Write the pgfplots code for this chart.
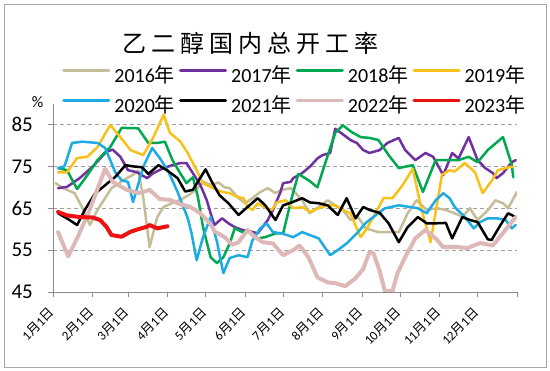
\documentclass[border=0pt]{standalone}
\usepackage{pgfplots}
\pgfplotsset{compat=1.18}
\usepackage{fontspec}
\setmainfont{Carlito}
\newfontfamily\cjk{Noto Sans CJK SC}
\newcommand{\md}[1]{#1{\cjk 月}1{\cjk 日}}
\newcommand{\nian}[1]{#1{\cjk 年}}
\definecolor{c16}{HTML}{C4BD97}
\definecolor{c17}{HTML}{7030A0}
\definecolor{c18}{HTML}{00A84F}
\definecolor{c19}{HTML}{F8C11A}
\definecolor{c20}{HTML}{1CABE2}
\definecolor{c21}{HTML}{000000}
\definecolor{c22}{HTML}{DDB8B7}
\definecolor{c23}{HTML}{EE1111}
\definecolor{axgray}{HTML}{8C8C8C}
\definecolor{frgray}{HTML}{A6A6A6}
\begin{document}
\begin{tikzpicture}
\path (-53pt,-79pt) rectangle (497pt,292pt);
\draw[frgray, line width=0.8pt] (-49pt,-75pt) rectangle (493pt,288pt);
\begin{axis}[
  at={(0pt,0pt)}, anchor=south west,
  scale only axis, width=464pt, height=188.4pt,
  xmin=0, xmax=365, ymin=45, ymax=90,
  axis x line*=bottom, axis y line*=left,
  axis line style={draw=axgray, line width=0.8pt, -},
  xtick={0,31,59,90,120,151,181,212,243,273,304,334,365},
  xticklabels={\md{1},\md{2},\md{3},\md{4},\md{5},\md{6},\md{7},\md{8},\md{9},\md{10},\md{11},\md{12},{}},
  ytick={45,55,65,75,85},
  tick align=outside, major tick length=5pt,
  tick style={draw=axgray, line width=0.8pt},
  ymajorgrids, grid style={draw=gray!75, dash pattern=on 4pt off 3pt, line width=0.7pt},
  /pgf/number format/assume math mode=true,
  yticklabel style={font=\fontsize{21}{24}\selectfont, anchor=east, inner sep=0pt, xshift=-15pt},
  xticklabel style={font=\fontsize{13}{15}\selectfont, yshift=-13pt, xshift=-1pt, rotate=45, anchor=east, inner sep=0pt},
  legend columns=4,
  legend style={draw=none, fill=none, inner sep=0pt, at={(0.0194,1.194)}, anchor=north west,
    font=\fontsize{20}{24}\selectfont, row sep=11pt,
    nodes={inner sep=0pt, text height=15pt, text depth=4pt},
    /tikz/every odd column/.append style={column sep=4pt},
    /tikz/every even column/.append style={column sep=4pt}},
  legend image code/.code={\draw[#1, line width=3.2pt] (0pt,6.5pt) -- (45pt,6.5pt);},
  every axis plot/.append style={line join=round, line cap=round},
]
\addplot[c16, line width=2.5pt] coordinates {(2,71)(8,69.8)(17,68.6)(25,64)(29,61)(35,64.6)(46,69.8)(57,72)(63,73)(67,74)(71,67.6)(76,55.7)(82,62.9)(87,65.3)(92,66)(100,67)(106,68)(112,69.3)(118,71.3)(125,70.5)(130,71.2)(135,70)(139,69.8)(145,67.7)(151,66.2)(157,67.4)(163,68.9)(169,69.8)(175,68.6)(179,69.3)(187,69.8)(190,68.9)(196,66.9)(202,63.8)(209,65.3)(216,66.9)(222,65.7)(228,64.6)(234,62.2)(240,62.9)(246,60.2)(256,59.3)(267,59.3)(272,59.3)(279,63.8)(286,66.9)(294,64.6)(302,65)(309,64.6)(316,63.8)(322,63)(328,65)(334,62.2)(342,64.5)(348,66.9)(354,66.2)(358,65)(365,68.9)};
\addlegendentry{\nian{2016}}
\addplot[c17, line width=2.5pt] coordinates {(4,69.8)(11,70.1)(21,72.2)(31,74.9)(42,78.5)(47,79)(53,77.3)(59,74.1)(66,73.6)(74,72.2)(79,73.4)(87,74.6)(94,75.3)(100,75.8)(105,75.8)(110,73.4)(116,70.5)(121,66.9)(124,63.8)(127,61)(133,62.6)(138,61.4)(143,60.5)(149,59.8)(155,59.5)(161,59)(169,62.2)(173,64.6)(179,68.9)(181,71)(187,71.3)(189,72.2)(196,73.4)(202,74.9)(208,76.9)(212,77.7)(218,78.2)(222,84)(227,82.9)(234,81.3)(239,80.6)(244,78.9)(249,78.2)(257,78.9)(263,80.6)(272,81.8)(277,78.9)(285,76.5)(293,78.2)(299,77.3)(307,72.9)(314,78.2)(319,76.9)(327,82)(334,76.5)(340,74.6)(346,73.4)(349,72.2)(354,73.4)(361,76)(364,76.5)};
\addlegendentry{\nian{2017}}
\addplot[c18, line width=2.5pt] coordinates {(4,74.6)(11,74.1)(19,69.6)(27,72.9)(35,76.5)(45,79.6)(54,84.2)(67,84.1)(75,80.6)(82,80.6)(88,80.9)(94,76.5)(100,73.4)(105,71)(110,72.4)(114,67.7)(118,60.5)(124,53.3)(129,51.9)(134,53.3)(139,56.6)(143,60.2)(149,59.3)(155,59.3)(161,57.8)(167,58.1)(175,59)(181,59)(188,67.7)(193,73.2)(202,71.5)(208,70)(216,77.5)(222,83)(228,84.8)(235,83.2)(242,82)(249,81.8)(256,81.3)(264,77.7)(272,74.6)(283,75.3)(291,68.9)(301,76.5)(309,76.5)(319,76.5)(327,77.3)(334,76)(342,78.9)(354,82)(361,75.3)(362,72.4)};
\addlegendentry{\nian{2018}}
\addplot[c19, line width=2.5pt] coordinates {(4,73.6)(11,73.6)(19,77)(27,77.3)(35,79.6)(45,84.9)(53,82)(61,78.9)(71,77.7)(79,82)(87,87.3)(92,83)(100,81)(106,78.2)(113,74.1)(118,71)(126,69.8)(133,68.9)(139,68.6)(145,67.7)(150,67.4)(153,65.3)(157,64.6)(161,66.2)(168,65)(172,64.6)(176,66.4)(183,66.9)(189,65)(196,65.3)(202,64.1)(209,65)(216,65.7)(222,65.7)(228,64.6)(234,63.8)(239,60.2)(242,58.1)(247,60.2)(252,62.9)(260,67.4)(267,67.4)(275,70.5)(283,74.4)(290,64.6)(297,56.9)(306,73)(312,74.1)(316,73.8)(324,75.8)(332,73.6)(338,68.6)(345,71.5)(350,74.1)(360,74.9)(362,74.9)};
\addlegendentry{\nian{2019}}
\addplot[c20, line width=2.5pt] coordinates {(4,74.6)(9,75)(15,80.6)(23,80.9)(35,80.6)(41,79.4)(49,73.6)(54,71.7)(59,71.3)(63,66.5)(71,74.9)(78,79.4)(84,77)(91,73.6)(98,68.9)(106,62.6)(109,59)(113,52.6)(118,58.1)(124,62.9)(125,61.4)(129,57)(134,49.5)(139,53.1)(146,53.8)(153,53.3)(157,57.4)(163,60.2)(168,61.4)(173,59.3)(180,59)(189,58.1)(196,59.3)(202,58.6)(209,57.8)(218,53.8)(224,55)(231,56.6)(239,59)(246,61.5)(252,62.9)(261,65)(272,65.7)(281,65.3)(287,65)(294,63.8)(301,66.9)(307,68.6)(312,67.4)(316,65.3)(324,62.9)(331,60.2)(336,61.7)(342,62.6)(349,62.6)(356,62.2)(361,60.2)(364,61)};
\addlegendentry{\nian{2020}}
\addplot[c21, line width=2.5pt] coordinates {(4,63.8)(12,62.4)(19,61)(25,64.6)(33,68.5)(41,70.5)(49,72.5)(57,75.3)(63,75)(70,74.8)(75,73.2)(83,75.3)(90,74)(98,72.2)(104,69)(110,69.4)(120,74.3)(125,71.3)(131,68.1)(138,66.2)(146,63.4)(153,65.3)(161,67.4)(167,65.7)(175,62.2)(181,65.7)(187,66.3)(196,67.4)(202,66.4)(209,66.2)(216,65.7)(224,63.4)(231,67.4)(238,62.6)(244,65.3)(249,64.6)(257,63.9)(264,61.4)(272,56.9)(279,60.5)(287,62.9)(294,61.4)(301,61.4)(309,61.5)(314,57.8)(322,62.9)(328,62.2)(334,61.7)(342,57.6)(345,57.4)(352,61)(358,63.8)(364,62.9)};
\addlegendentry{\nian{2021}}
\addplot[c22, line width=4pt] coordinates {(4,59.3)(12,53.5)(20,58.5)(28,64)(41,74.4)(47,71.3)(58,69.4)(68,68.6)(76,69.4)(84,67.2)(92,67)(100,66)(108,65.3)(116,63.8)(124,61.2)(127,59.5)(135,58.1)(141,56.3)(146,56.9)(153,59.8)(159,58.1)(165,56.9)(173,56.6)(181,53.8)(189,55)(194,56.1)(201,53.3)(208,48.5)(216,47.3)(222,47.1)(230,46.4)(238,48.3)(244,50.5)(249,54.5)(252,54.3)(257,50)(261,45.3)(267,45.2)(271,49.5)(277,53.3)(285,57.8)(293,59.8)(301,57.8)(307,55.7)(316,55.8)(326,55.5)(336,56.7)(346,56.1)(354,59.1)(364,62.9)};
\addlegendentry{\nian{2022}}
\addplot[c23, line width=4pt] coordinates {(4,64.1)(11,63.3)(21,62.9)(31,62.8)(37,62.2)(42,60.6)(46,58.6)(54,58.2)(61,59.4)(66,59.9)(74,60.6)(76,61)(82,60.2)(90,60.7)};
\addlegendentry{\nian{2023}}
\end{axis}
\node[font=\cjk\fontsize{24}{27}\selectfont] at (198pt,249pt) {乙\kern5pt 二\kern5pt 醇\kern5pt 国\kern5pt 内\kern5pt 总\kern5pt 开\kern5pt 工\kern5pt 率};
\node[font=\fontsize{16}{18}\selectfont] at (-15.5pt,190pt) {\%};
\end{tikzpicture}
\end{document}
